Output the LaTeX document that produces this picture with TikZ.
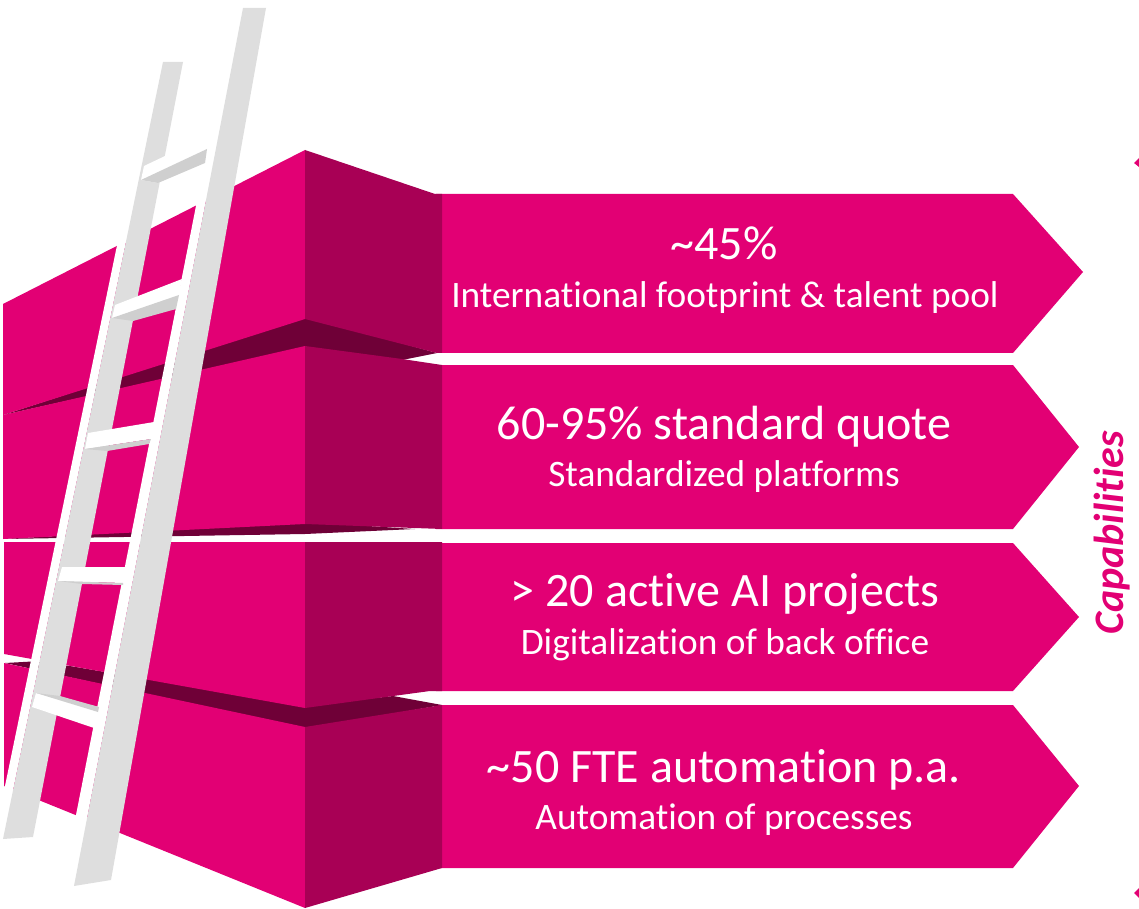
\documentclass[tikz,border=0pt]{standalone}
\usepackage{fontspec}
\setmainfont[RawFeature={-liga;-clig}]{Carlito}
\definecolor{pink}{HTML}{E20074}
\definecolor{side}{HTML}{A80055}
\definecolor{under}{HTML}{6F0037}
\definecolor{rail}{HTML}{DEDEDE}
\definecolor{wedge}{HTML}{CFCFCF}
\tikzset{
  face/.style={fill=pink,draw=none},
  sidef/.style={fill=side,draw=none},
  underf/.style={fill=under,draw=none},
  railf/.style={fill=rail,draw=none},
  wedgef/.style={fill=wedge,draw=none},
  whitef/.style={fill=white,draw=none},
  big/.style={text=white,font=\fontsize{36pt}{36pt}\selectfont,anchor=base,inner sep=0pt},
  small/.style={text=white,font=\fontsize{28pt}{28pt}\selectfont,anchor=base,inner sep=0pt},
}
\begin{document}
\begin{tikzpicture}[x=0.75pt,y=-0.75pt,line join=miter]
\useasboundingbox (0,0) rectangle (1139,909);
% arrows
\fill[face] (436,194) -- (1013,194) -- (1083,272) -- (1013,353) -- (436,353) -- cycle;
\fill[face] (436,365) -- (1013,365) -- (1079,447) -- (1013,529) -- (436,529) -- cycle;
\fill[face] (436,543) -- (1013,543) -- (1079,617) -- (1013,691) -- (436,691) -- cycle;
\fill[face] (436,705) -- (1013,705) -- (1079,786) -- (1013,868) -- (436,868) -- cycle;
% undersides first, so the faces overlap their edges
\fill[underf] (305,317) -- (437,353) -- (402,360) -- (305,348) -- (3,415) -- cycle;
\fill[underf] (3,539) -- (305,522) -- (415,529) -- (305,534) -- cycle;
\fill[underf] (305,706) -- (393,696) -- (442,705) -- (305,729) -- (5,663) -- (32,661.5) -- (70,666) -- cycle;
% block 1
\fill[face] (3,304) -- (305,150) -- (305,319) -- (3,415) -- cycle;
\fill[sidef] (305,150) -- (435,194) -- (442,194) -- (442,353) -- (437,353) -- (305,319) -- cycle;
% block 2
\fill[face] (3,415) -- (305,346) -- (305,524) -- (3,539) -- cycle;
\fill[sidef] (305,346) -- (402,359) -- (442,365) -- (442,529) -- (305,524) -- cycle;
% block 3
\fill[face] (4,542) -- (305,542) -- (305,708) -- (4,654) -- cycle;
\fill[sidef] (305,542) -- (442,542) -- (442,691) -- (430,691) -- (305,708) -- cycle;
% block 4
\fill[face] (4,663) -- (305,727) -- (305,908) -- (4,786) -- cycle;
\fill[sidef] (305,727) -- (442,705) -- (442,868) -- (305,908) -- cycle;
% ladder: left rail
\fill[whitef] (155,62) -- (163,62) -- (3,839) -- (0,839) -- (0,810) -- cycle;
\fill[railf] (163,62) -- (183,62) -- (33,837) -- (3,839) -- cycle;
% ladder: right rail
\fill[whitef] (235,8) -- (243,8) -- (74,886) -- (62,886) -- cycle;
\fill[railf] (243,8) -- (266,8) -- (111,880) -- (74,886) -- cycle;
% rungs
\fill[whitef] (144,166) -- (165,156) -- (207,149) -- (205,163) -- (158,183) -- (141,180) -- cycle;
\fill[wedgef] (207,149) -- (205,163) -- (158,183) -- (141,180) -- cycle;
\fill[whitef] (115,305) -- (182,279) -- (179,295) -- (176,309) -- (112,318) -- cycle;
\fill[wedgef] (179,295) -- (176,309) -- (133,321) -- (112,318) -- cycle;
\fill[whitef] (88,433) -- (154,422) -- (151,439) -- (85,449) -- cycle;
\fill[wedgef] (151,439) -- (149,444) -- (107,451) -- (85,449) -- cycle;
\fill[whitef] (62,567) -- (126,567) -- (123,583) -- (58,581) -- cycle;
\fill[wedgef] (58,581) -- (123,583) -- (123,585) -- (82,584) -- cycle;
\fill[whitef] (36,693) -- (99,707) -- (94,728) -- (32,707) -- cycle;
\fill[wedgef] (36,693) -- (60,696) -- (99,707) -- (98,712) -- cycle;
% texts
\node[big] (t1a) at (724,260) {\textasciitilde 45\%};
\node[small] (t1b) at (725,308) {International footprint \& talent pool};
\node[big] (t2a) at (724,439) {60-95\% standard quote};
\node[small] (t2b) at (724,486) {Standardized platforms};
\node[big] (t3a) at (725,606) {> 20 active AI projects};
\node[small] (t3b) at (725,654) {Digitalization of back office};
\node[big] (t4a) at (724,782) {\textasciitilde 50 FTE automation p.a.};
\node[small] (t4b) at (724,829) {Automation of processes};
\node[rotate=90,text=pink,font=\fontsize{31.5pt}{31.5pt}\selectfont\bfseries\itshape,inner sep=0pt] (cap) at (1112,533) {Capabilities};
\fill[face] (1139,158) -- (1134,163) -- (1139,167) -- cycle;
\fill[face] (1139,888) -- (1134,893) -- (1139,898) -- cycle;
\end{tikzpicture}
\end{document}
